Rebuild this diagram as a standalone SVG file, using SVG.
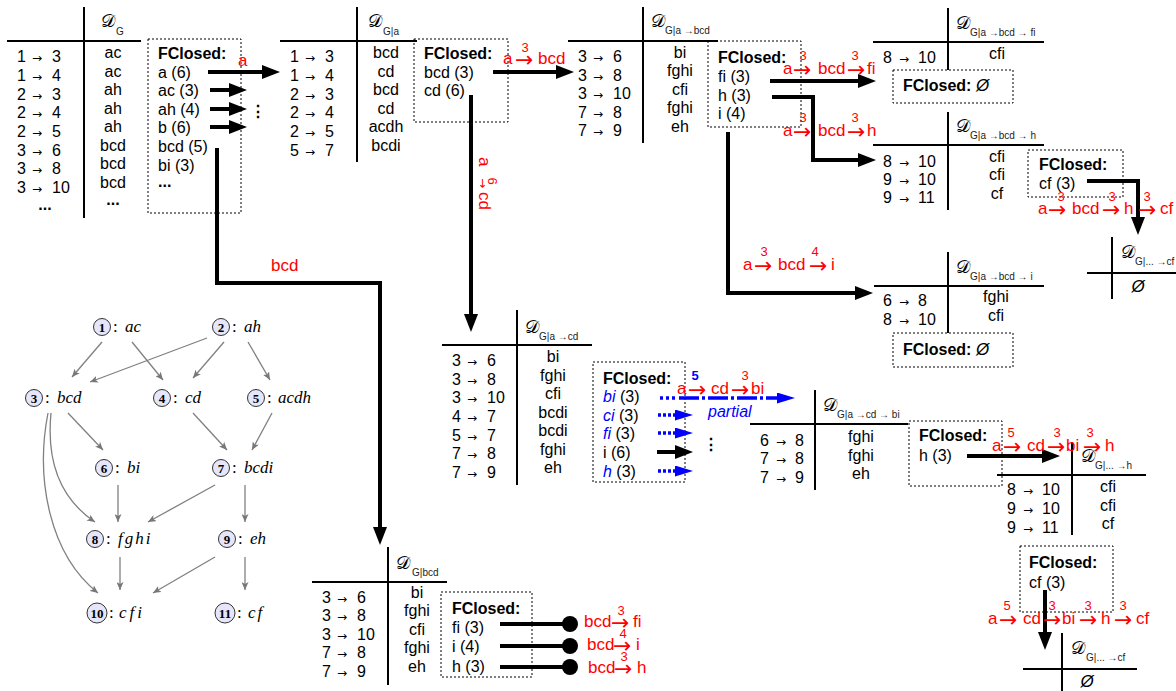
<svg xmlns="http://www.w3.org/2000/svg" width="1176" height="691" viewBox="0 0 1176 691">
<style>
text{font-family:"Liberation Sans",Arial,sans-serif;font-size:16px;fill:#000}
.b{font-weight:bold}
.m{text-anchor:middle}
.sa{font-family:"DejaVu Sans",sans-serif;font-size:12px}
.ar{font-family:"DejaVu Sans",sans-serif;font-size:22px}
.r{fill:#ff0000;font-size:17px}
.sup{fill:#ff0000;font-size:13px;text-anchor:middle}
.bl{fill:#0000ff}
.it{font-style:italic}
.sub{font-size:10px;fill:#222}
.D{font-family:"DejaVu Sans","Noto Sans",serif;font-size:18px}
.tl{stroke:#000;stroke-width:2;fill:none}
.box{fill:none;stroke:#000;stroke-width:1;stroke-dasharray:2 2}
.arr{stroke:#000;stroke-width:4;fill:none;marker-end:url(#ah)}
.barr{stroke:#0000ff;stroke-width:3.5;fill:none;stroke-dasharray:3 2;marker-end:url(#bh)}
.bdot{stroke:#0000ff;stroke-width:3.5;fill:none;stroke-dasharray:3 3}
.bdash{stroke:#0000ff;stroke-width:3.5;fill:none;stroke-dasharray:20 3 3 3;marker-end:url(#bh)}
.ge{stroke:#808080;stroke-width:1.3;fill:none;marker-end:url(#gh)}
.nc{fill:#e6e6fa;stroke:#333;stroke-width:1}
.nn{font-family:"Liberation Serif",serif;font-weight:bold;font-size:13px;text-anchor:middle}
.nl{font-family:"Liberation Serif",serif;font-size:17px}
.emp{font-style:italic;font-size:17px}
</style>
<defs>
<marker id="ah" markerUnits="userSpaceOnUse" markerWidth="18" markerHeight="14" refX="4" refY="7" orient="auto"><path d="M0,0 L18,7 L0,14 z" fill="#000"/></marker>
<marker id="bh" markerUnits="userSpaceOnUse" markerWidth="18" markerHeight="11" refX="2" refY="5.5" orient="auto"><path d="M0,0 L18,5.5 L0,11 z" fill="#0000ff"/></marker>
<marker id="gh" markerUnits="userSpaceOnUse" markerWidth="8" markerHeight="7" refX="8" refY="3.5" orient="auto"><path d="M0,0 L8,3.5 L0,7 L2,3.5 z" fill="#777"/></marker>
</defs>

<!-- Table D_G -->
<g id="tG">
<line class="tl" x1="84" y1="7" x2="84" y2="218"/><line class="tl" x1="7" y1="41" x2="141" y2="41"/>
<text class="D" x="101" y="27">𝒟</text><text class="sub" x="116" y="35">G</text>
<text y="62"><tspan x="17">1</tspan><tspan x="32" class="sa">→</tspan><tspan x="52">3</tspan></text>
<text y="81"><tspan x="17">1</tspan><tspan x="32" class="sa">→</tspan><tspan x="52">4</tspan></text>
<text y="100"><tspan x="17">2</tspan><tspan x="32" class="sa">→</tspan><tspan x="52">3</tspan></text>
<text y="118"><tspan x="17">2</tspan><tspan x="32" class="sa">→</tspan><tspan x="52">4</tspan></text>
<text y="137"><tspan x="17">2</tspan><tspan x="32" class="sa">→</tspan><tspan x="52">5</tspan></text>
<text y="156"><tspan x="17">3</tspan><tspan x="32" class="sa">→</tspan><tspan x="52">6</tspan></text>
<text y="174"><tspan x="17">3</tspan><tspan x="32" class="sa">→</tspan><tspan x="52">8</tspan></text>
<text y="193"><tspan x="17">3</tspan><tspan x="32" class="sa">→</tspan><tspan x="52">10</tspan></text>
<text class="m b" x="45" y="210">...</text>
<text class="m" x="113" y="58">ac</text><text class="m" x="113" y="77">ac</text><text class="m" x="113" y="95">ah</text><text class="m" x="113" y="114">ah</text><text class="m" x="113" y="132">ah</text><text class="m" x="113" y="151">bcd</text><text class="m" x="113" y="169">bcd</text><text class="m" x="113" y="188">bcd</text>
<text class="m b" x="113" y="205">...</text>
</g>
<g id="fcG">
<rect class="box" x="148" y="39" width="93" height="174"/>
<text class="b" x="158" y="59">FClosed:</text>
<text x="158" y="78">a (6)</text><text x="158" y="96">ac (3)</text><text x="158" y="115">ah (4)</text><text x="158" y="133">b (6)</text><text x="158" y="152">bcd (5)</text><text x="158" y="171">bi (3)</text><text class="b" x="158" y="187">...</text>
</g>

<!-- Table D_G|a -->
<g id="tGa">
<line class="tl" x1="357" y1="7" x2="357" y2="162"/><line class="tl" x1="280" y1="41" x2="417" y2="41"/>
<text class="D" x="368" y="27">𝒟</text><text class="sub" x="383" y="35">G|a</text>
<text y="62"><tspan x="290">1</tspan><tspan x="305" class="sa">→</tspan><tspan x="325">3</tspan></text>
<text y="81"><tspan x="290">1</tspan><tspan x="305" class="sa">→</tspan><tspan x="325">4</tspan></text>
<text y="100"><tspan x="290">2</tspan><tspan x="305" class="sa">→</tspan><tspan x="325">3</tspan></text>
<text y="118"><tspan x="290">2</tspan><tspan x="305" class="sa">→</tspan><tspan x="325">4</tspan></text>
<text y="137"><tspan x="290">2</tspan><tspan x="305" class="sa">→</tspan><tspan x="325">5</tspan></text>
<text y="156"><tspan x="290">5</tspan><tspan x="305" class="sa">→</tspan><tspan x="325">7</tspan></text>
<text class="m" x="386" y="58">bcd</text><text class="m" x="386" y="77">cd</text><text class="m" x="386" y="95">bcd</text><text class="m" x="386" y="114">cd</text><text class="m" x="386" y="132">acdh</text><text class="m" x="386" y="151">bcdi</text>
</g>
<g id="fcGa">
<rect class="box" x="414" y="39" width="94" height="83"/>
<text class="b" x="424" y="59">FClosed:</text>
<text x="424" y="78">bcd (3)</text><text x="424" y="96">cd (6)</text>
</g>

<!-- Table D_G|a->bcd -->
<g id="tGabcd">
<line class="tl" x1="643" y1="7" x2="643" y2="143"/><line class="tl" x1="568" y1="41" x2="718" y2="41"/>
<text class="D" x="651" y="27">𝒟</text><text class="sub" x="665" y="34">G|a →bcd</text>
<text y="62"><tspan x="578">3</tspan><tspan x="593" class="sa">→</tspan><tspan x="613">6</tspan></text>
<text y="81"><tspan x="578">3</tspan><tspan x="593" class="sa">→</tspan><tspan x="613">8</tspan></text>
<text y="99"><tspan x="578">3</tspan><tspan x="593" class="sa">→</tspan><tspan x="613">10</tspan></text>
<text y="118"><tspan x="578">7</tspan><tspan x="593" class="sa">→</tspan><tspan x="613">8</tspan></text>
<text y="136"><tspan x="578">7</tspan><tspan x="593" class="sa">→</tspan><tspan x="613">9</tspan></text>
<text class="m" x="680" y="58">bi</text><text class="m" x="680" y="76">fghi</text><text class="m" x="680" y="95">cfi</text><text class="m" x="680" y="113">fghi</text><text class="m" x="680" y="132">eh</text>
</g>
<g id="fcGabcd">
<rect class="box" x="708" y="41" width="93" height="86"/>
<text class="b" x="718" y="63">FClosed:</text>
<text x="718" y="82">fi (3)</text><text x="718" y="101">h (3)</text><text x="718" y="119">i (4)</text>
</g>

<!-- Table D_G|a->bcd->fi -->
<g id="tGfi">
<line class="tl" x1="948" y1="8" x2="948" y2="70"/><line class="tl" x1="873" y1="42" x2="1044" y2="42"/>
<text class="D" x="956" y="29">𝒟</text><text class="sub" x="970" y="36">G|a →bcd → fi</text>
<text y="63"><tspan x="883">8</tspan><tspan x="899" class="sa">→</tspan><tspan x="918">10</tspan></text>
<text class="m" x="997" y="59">cfi</text>
</g>
<g id="fcGfi">
<rect class="box" x="893" y="70" width="120" height="33"/>
<text x="903" y="91"><tspan class="b">FClosed:</tspan> <tspan class="emp">Ø</tspan></text>
</g>

<!-- Table D_G|a->bcd->h -->
<g id="tGh">
<line class="tl" x1="948" y1="112" x2="948" y2="210"/><line class="tl" x1="873" y1="145" x2="1044" y2="145"/>
<text class="D" x="956" y="132">𝒟</text><text class="sub" x="970" y="139">G|a →bcd → h</text>
<text y="167"><tspan x="883">8</tspan><tspan x="899" class="sa">→</tspan><tspan x="918">10</tspan></text>
<text y="185"><tspan x="883">9</tspan><tspan x="899" class="sa">→</tspan><tspan x="918">10</tspan></text>
<text y="203"><tspan x="883">9</tspan><tspan x="899" class="sa">→</tspan><tspan x="918">11</tspan></text>
<text class="m" x="997" y="162">cfi</text><text class="m" x="997" y="180">cfi</text><text class="m" x="997" y="199">cf</text>
</g>
<g id="fcGh">
<rect class="box" x="1028" y="150" width="95" height="47"/>
<text class="b" x="1039" y="170">FClosed:</text>
<text x="1039" y="189">cf (3)</text>
</g>

<!-- Table D_G|...->cf (right) -->
<g id="tGcf1">
<line class="tl" x1="1112" y1="237" x2="1112" y2="299"/><line class="tl" x1="1087" y1="273" x2="1176" y2="273"/>
<text class="D" x="1121" y="258">𝒟</text><text class="sub" x="1135" y="265">G|... →cf</text>
<text class="m emp" x="1138" y="292">Ø</text>
</g>

<!-- Table D_G|a->bcd->i -->
<g id="tGi">
<line class="tl" x1="948" y1="252" x2="948" y2="333"/><line class="tl" x1="874" y1="286" x2="1044" y2="286"/>
<text class="D" x="956" y="273">𝒟</text><text class="sub" x="970" y="280">G|a →bcd → i</text>
<text y="306"><tspan x="883">6</tspan><tspan x="899" class="sa">→</tspan><tspan x="918">8</tspan></text>
<text y="325"><tspan x="883">8</tspan><tspan x="899" class="sa">→</tspan><tspan x="918">10</tspan></text>
<text class="m" x="996" y="302">fghi</text><text class="m" x="996" y="321">cfi</text>
</g>
<g id="fcGi">
<rect class="box" x="893" y="333" width="120" height="34"/>
<text x="903" y="355"><tspan class="b">FClosed:</tspan> <tspan class="emp">Ø</tspan></text>
</g>

<!-- Table D_G|a->cd -->
<g id="tGacd">
<line class="tl" x1="517" y1="310" x2="517" y2="485"/><line class="tl" x1="442" y1="345" x2="592" y2="345"/>
<text class="D" x="525" y="333">𝒟</text><text class="sub" x="539" y="340">G|a →cd</text>
<text y="366"><tspan x="452">3</tspan><tspan x="467" class="sa">→</tspan><tspan x="487">6</tspan></text>
<text y="385"><tspan x="452">3</tspan><tspan x="467" class="sa">→</tspan><tspan x="487">8</tspan></text>
<text y="403"><tspan x="452">3</tspan><tspan x="467" class="sa">→</tspan><tspan x="487">10</tspan></text>
<text y="422"><tspan x="452">4</tspan><tspan x="467" class="sa">→</tspan><tspan x="487">7</tspan></text>
<text y="441"><tspan x="452">5</tspan><tspan x="467" class="sa">→</tspan><tspan x="487">7</tspan></text>
<text y="459"><tspan x="452">7</tspan><tspan x="467" class="sa">→</tspan><tspan x="487">8</tspan></text>
<text y="478"><tspan x="452">7</tspan><tspan x="467" class="sa">→</tspan><tspan x="487">9</tspan></text>
<text class="m" x="553" y="362">bi</text><text class="m" x="553" y="381">fghi</text><text class="m" x="553" y="399">cfi</text><text class="m" x="553" y="418">bcdi</text><text class="m" x="553" y="436">bcdi</text><text class="m" x="553" y="455">fghi</text><text class="m" x="553" y="473">eh</text>
</g>
<g id="fcGacd">
<rect class="box" x="593" y="362" width="92" height="120"/>
<text class="b" x="603" y="384">FClosed:</text>
<text x="603" y="402"><tspan class="bl it">bi</tspan> (3)</text>
<text x="603" y="421"><tspan class="bl it">ci</tspan> (3)</text>
<text x="603" y="439"><tspan class="bl it">fi</tspan> (3)</text>
<text x="603" y="458">i (6)</text>
<text x="603" y="477"><tspan class="bl it">h</tspan> (3)</text>
</g>

<!-- Table D_G|a->cd->bi -->
<g id="tGbi">
<line class="tl" x1="815" y1="390" x2="815" y2="490"/><line class="tl" x1="750" y1="424" x2="908" y2="424"/>
<text class="D" x="823" y="411">𝒟</text><text class="sub" x="837" y="418">G|a →cd → bi</text>
<text y="446"><tspan x="760">6</tspan><tspan x="776" class="sa">→</tspan><tspan x="795">8</tspan></text>
<text y="464"><tspan x="760">7</tspan><tspan x="776" class="sa">→</tspan><tspan x="795">8</tspan></text>
<text y="483"><tspan x="760">7</tspan><tspan x="776" class="sa">→</tspan><tspan x="795">9</tspan></text>
<text class="m" x="861" y="442">fghi</text><text class="m" x="861" y="461">fghi</text><text class="m" x="861" y="479">eh</text>
</g>
<g id="fcGbi">
<rect class="box" x="909" y="421" width="93" height="65"/>
<text class="b" x="919" y="441">FClosed:</text>
<text x="919" y="461">h (3)</text>
</g>

<!-- Table D_G|...->h -->
<g id="tGh2">
<line class="tl" x1="1072" y1="442" x2="1072" y2="535"/><line class="tl" x1="997" y1="475" x2="1146" y2="475"/>
<text class="D" x="1081" y="462">𝒟</text><text class="sub" x="1095" y="469">G|... →h</text>
<text y="495"><tspan x="1007">8</tspan><tspan x="1023" class="sa">→</tspan><tspan x="1042">10</tspan></text>
<text y="514"><tspan x="1007">9</tspan><tspan x="1023" class="sa">→</tspan><tspan x="1042">10</tspan></text>
<text y="533"><tspan x="1007">9</tspan><tspan x="1023" class="sa">→</tspan><tspan x="1042">11</tspan></text>
<text class="m" x="1108" y="492">cfi</text><text class="m" x="1108" y="511">cfi</text><text class="m" x="1108" y="529">cf</text>
</g>
<g id="fcGh2">
<rect class="box" x="1020" y="546" width="93" height="66"/>
<text class="b" x="1029" y="568">FClosed:</text>
<text x="1029" y="588">cf (3)</text>
</g>

<!-- Table D_G|...->cf (bottom) -->
<g id="tGcf2">
<line class="tl" x1="1062" y1="633" x2="1062" y2="691"/><line class="tl" x1="1023" y1="669" x2="1137" y2="669"/>
<text class="D" x="1071" y="654">𝒟</text><text class="sub" x="1086" y="661">G|... →cf</text>
<text class="m emp" x="1087" y="687" font-size="16">Ø</text>
</g>

<!-- Table D_G|bcd -->
<g id="tGbcd">
<line class="tl" x1="388" y1="547" x2="388" y2="685"/><line class="tl" x1="312" y1="582" x2="447" y2="582"/>
<text class="D" x="396" y="569">𝒟</text><text class="sub" x="412" y="576">G|bcd</text>
<text y="603"><tspan x="322">3</tspan><tspan x="337" class="sa">→</tspan><tspan x="357">6</tspan></text>
<text y="621"><tspan x="322">3</tspan><tspan x="337" class="sa">→</tspan><tspan x="357">8</tspan></text>
<text y="640"><tspan x="322">3</tspan><tspan x="337" class="sa">→</tspan><tspan x="357">10</tspan></text>
<text y="658"><tspan x="322">7</tspan><tspan x="337" class="sa">→</tspan><tspan x="357">8</tspan></text>
<text y="677"><tspan x="322">7</tspan><tspan x="337" class="sa">→</tspan><tspan x="357">9</tspan></text>
<text class="m" x="417" y="598">bi</text><text class="m" x="417" y="616">fghi</text><text class="m" x="417" y="635">cfi</text><text class="m" x="417" y="653">fghi</text><text class="m" x="417" y="672">eh</text>
</g>
<g id="fcGbcd">
<rect class="box" x="441" y="592" width="91" height="85"/>
<text class="b" x="452" y="614">FClosed:</text>
<text x="452" y="633">fi (3)</text><text x="452" y="652">i (4)</text><text x="452" y="672">h (3)</text>
</g>

<!-- Lattice graph -->
<g id="lattice-edges">
<line class="ge" x1="102" y1="342" x2="72" y2="377"/>
<line class="ge" x1="132" y1="342" x2="163" y2="380"/>
<line class="ge" x1="207" y1="338" x2="90" y2="382"/>
<line class="ge" x1="224" y1="342" x2="193" y2="378"/>
<line class="ge" x1="248" y1="342" x2="270" y2="380"/>
<line class="ge" x1="68" y1="413" x2="103" y2="450"/>
<line class="ge" x1="193" y1="413" x2="227" y2="450"/>
<line class="ge" x1="272" y1="413" x2="252" y2="450"/>
<path class="ge" d="M51,413 C46,465 62,500 95,522"/>
<path class="ge" d="M48,413 C35,480 50,555 98,593"/>
<line class="ge" x1="118" y1="485" x2="118" y2="522"/>
<line class="ge" x1="215" y1="485" x2="148" y2="522"/>
<line class="ge" x1="245" y1="485" x2="245" y2="522"/>
<line class="ge" x1="120" y1="557" x2="120" y2="590"/>
<line class="ge" x1="215" y1="557" x2="153" y2="593"/>
<line class="ge" x1="245" y1="557" x2="245" y2="590"/>
</g>
<g id="n1"><circle class="nc" cx="102" cy="327" r="8.5"/><text class="nn" x="102" y="331.5">1</text><text class="nl" y="332"><tspan x="113">:</tspan><tspan x="125" class="it">ac</tspan></text></g>
<g id="n2"><circle class="nc" cx="221" cy="327" r="8.5"/><text class="nn" x="221" y="331.5">2</text><text class="nl" y="332"><tspan x="232">:</tspan><tspan x="244" class="it">ah</tspan></text></g>
<g id="n3"><circle class="nc" cx="34" cy="398" r="8.5"/><text class="nn" x="34" y="402.5">3</text><text class="nl" y="403"><tspan x="45">:</tspan><tspan x="57" class="it">bcd</tspan></text></g>
<g id="n4"><circle class="nc" cx="162" cy="398" r="8.5"/><text class="nn" x="162" y="402.5">4</text><text class="nl" y="403"><tspan x="173">:</tspan><tspan x="185" class="it">cd</tspan></text></g>
<g id="n5"><circle class="nc" cx="256" cy="398" r="8.5"/><text class="nn" x="256" y="402.5">5</text><text class="nl" y="403"><tspan x="267">:</tspan><tspan x="278" class="it">acdh</tspan></text></g>
<g id="n6"><circle class="nc" cx="104" cy="468" r="8.5"/><text class="nn" x="104" y="472.5">6</text><text class="nl" y="473"><tspan x="115">:</tspan><tspan x="127" class="it">bi</tspan></text></g>
<g id="n7"><circle class="nc" cx="221" cy="468" r="8.5"/><text class="nn" x="221" y="472.5">7</text><text class="nl" y="473"><tspan x="232">:</tspan><tspan x="244" class="it">bcdi</tspan></text></g>
<g id="n8"><circle class="nc" cx="95" cy="539" r="8.5"/><text class="nn" x="95" y="543.5">8</text><text class="nl" y="544"><tspan x="106">:</tspan><tspan x="118" class="it" letter-spacing="2">fghi</tspan></text></g>
<g id="n9"><circle class="nc" cx="227" cy="539" r="8.5"/><text class="nn" x="227" y="543.5">9</text><text class="nl" y="544"><tspan x="238">:</tspan><tspan x="250" class="it">eh</tspan></text></g>
<g id="n10"><circle class="nc" cx="97" cy="613" r="10"/><text class="nn" x="97" y="617.5">10</text><text class="nl" y="618"><tspan x="109">:</tspan><tspan x="119" class="it" letter-spacing="3">cfi</tspan></text></g>
<g id="n11"><circle class="nc" cx="225" cy="613" r="10"/><text class="nn" x="225" y="617.5">11</text><text class="nl" y="618"><tspan x="237">:</tspan><tspan x="248" class="it" letter-spacing="2">cf</tspan></text></g>

<!-- Connectors -->
<g id="connectors">
<path class="arr" d="M208,72 H266"/>
<path class="arr" d="M210,90 H233"/>
<path class="arr" d="M210,109 H233"/>
<path class="arr" d="M210,127 H233"/>
<path class="arr" d="M217,148 V283 H380 V531"/>
<path class="arr" d="M493,72 H560"/>
<path class="arr" d="M471,95 V318"/>
<path class="arr" d="M770,81 H862"/>
<path class="arr" d="M772,97 H813 V160 H862"/>
<path class="arr" d="M728,132 V293 H859"/>
<path class="arr" d="M1087,181 H1138 V221"/>
<path class="arr" d="M967,456 H1046"/>
<path class="arr" d="M1045,590 V636"/>
<path class="arr" d="M657,452 H679"/>
<path class="barr" d="M658,415 H677"/>
<path class="barr" d="M658,433 H677"/>
<path class="barr" d="M658,471 H677"/>
<path class="bdot" d="M660,398 H677"/>
<path class="bdash" d="M679,398 H779"/>
<g stroke="#000" stroke-width="4">
<line x1="500" y1="624" x2="568" y2="624"/><line x1="500" y1="646" x2="568" y2="646"/><line x1="500" y1="667" x2="568" y2="667"/>
</g>
<circle cx="570" cy="624" r="8"/><circle cx="570" cy="646" r="8"/><circle cx="570" cy="667" r="8"/>
<text class="b" x="250" y="117" font-family="DejaVu Sans" font-size="18">⋮</text>
<text class="b" x="703" y="450" font-family="DejaVu Sans" font-size="18">⋮</text>
</g>

<!-- Edge labels -->
<g id="labels">
<text class="r" x="238" y="66">a</text>
<text class="r" y="64"><tspan x="503">a</tspan><tspan x="515" class="ar" dy="3">→</tspan><tspan x="538" dy="-3">bcd</tspan></text><text class="sup" x="525" y="52">3</text>
<text class="r" y="74"><tspan x="783">a</tspan><tspan x="793" class="ar" dy="3">→</tspan><tspan x="818" dy="-3">bcd</tspan><tspan x="847" class="ar" dy="3">→</tspan><tspan x="867" dy="-3">fi</tspan></text><text class="sup" x="803" y="60">3</text><text class="sup" x="855" y="60">3</text>
<text class="r" y="136"><tspan x="783">a</tspan><tspan x="793" class="ar" dy="3">→</tspan><tspan x="818" dy="-3">bcd</tspan><tspan x="847" class="ar" dy="3">→</tspan><tspan x="867" dy="-3">h</tspan></text><text class="sup" x="803" y="122">3</text><text class="sup" x="855" y="122">3</text>
<text class="r" y="270"><tspan x="743">a</tspan><tspan x="754" class="ar" dy="3">→</tspan><tspan x="778" dy="-3">bcd</tspan><tspan x="809" class="ar" dy="3">→</tspan><tspan x="831" dy="-3">i</tspan></text><text class="sup" x="764" y="256">3</text><text class="sup" x="815" y="256">4</text>
<text class="r" y="214"><tspan x="1038">a</tspan><tspan x="1048" class="ar" dy="3">→</tspan><tspan x="1072" dy="-3">bcd</tspan><tspan x="1102" class="ar" dy="3">→</tspan><tspan x="1124" dy="-3">h</tspan><tspan x="1138" class="ar" dy="3">→</tspan><tspan x="1160" dy="-3">cf</tspan></text><text class="sup" x="1061" y="201">3</text><text class="sup" x="1112" y="201">3</text><text class="sup" x="1147" y="201">3</text>
<text class="r" y="394"><tspan x="677">a</tspan><tspan x="688" class="ar" dy="3">→</tspan><tspan x="711" dy="-3">cd</tspan><tspan x="731" class="ar" dy="3">→</tspan><tspan x="751" dy="-3">bi</tspan></text><text class="sup b bl" x="695" y="380">5</text><text class="sup" x="745" y="380">3</text>
<text class="bl it" x="708" y="417" font-size="14">partial</text>
<text class="r" y="451"><tspan x="992">a</tspan><tspan x="1003" class="ar" dy="3">→</tspan><tspan x="1027" dy="-3">cd</tspan><tspan x="1047" class="ar" dy="3">→</tspan><tspan x="1066" dy="-3">bi</tspan><tspan x="1083" class="ar" dy="3">→</tspan><tspan x="1105" dy="-3">h</tspan></text><text class="sup" x="1011" y="437">5</text><text class="sup" x="1057" y="437">3</text><text class="sup" x="1090" y="437">3</text>
<text class="r" y="624"><tspan x="988">a</tspan><tspan x="999" class="ar" dy="3">→</tspan><tspan x="1023" dy="-3">cd</tspan><tspan x="1043" class="ar" dy="3">→</tspan><tspan x="1062" dy="-3">bi</tspan><tspan x="1079" class="ar" dy="3">→</tspan><tspan x="1101" dy="-3">h</tspan><tspan x="1114" class="ar" dy="3">→</tspan><tspan x="1136" dy="-3">cf</tspan></text><text class="sup" x="1007" y="610">5</text><text class="sup" x="1052" y="610">3</text><text class="sup" x="1088" y="610">3</text><text class="sup" x="1123" y="610">3</text>
<text class="r" x="271" y="271">bcd</text>
<g transform="translate(479,157) rotate(90)"><text class="r"><tspan x="0">a</tspan><tspan x="21" class="sa">→</tspan><tspan x="35">cd</tspan></text><text class="sup" x="24" y="-9" font-size="11">6</text></g>
<text class="r" y="627"><tspan x="584">bcd</tspan><tspan x="611" class="ar" dy="3">→</tspan><tspan x="633" dy="-3">fi</tspan></text><text class="sup" x="621" y="615">3</text>
<text class="r" y="650"><tspan x="587">bcd</tspan><tspan x="613" class="ar" dy="3">→</tspan><tspan x="636" dy="-3">i</tspan></text><text class="sup" x="623" y="638">4</text>
<text class="r" y="673"><tspan x="588">bcd</tspan><tspan x="614" class="ar" dy="3">→</tspan><tspan x="637" dy="-3">h</tspan></text><text class="sup" x="624" y="661">3</text>
</g>
</svg>
